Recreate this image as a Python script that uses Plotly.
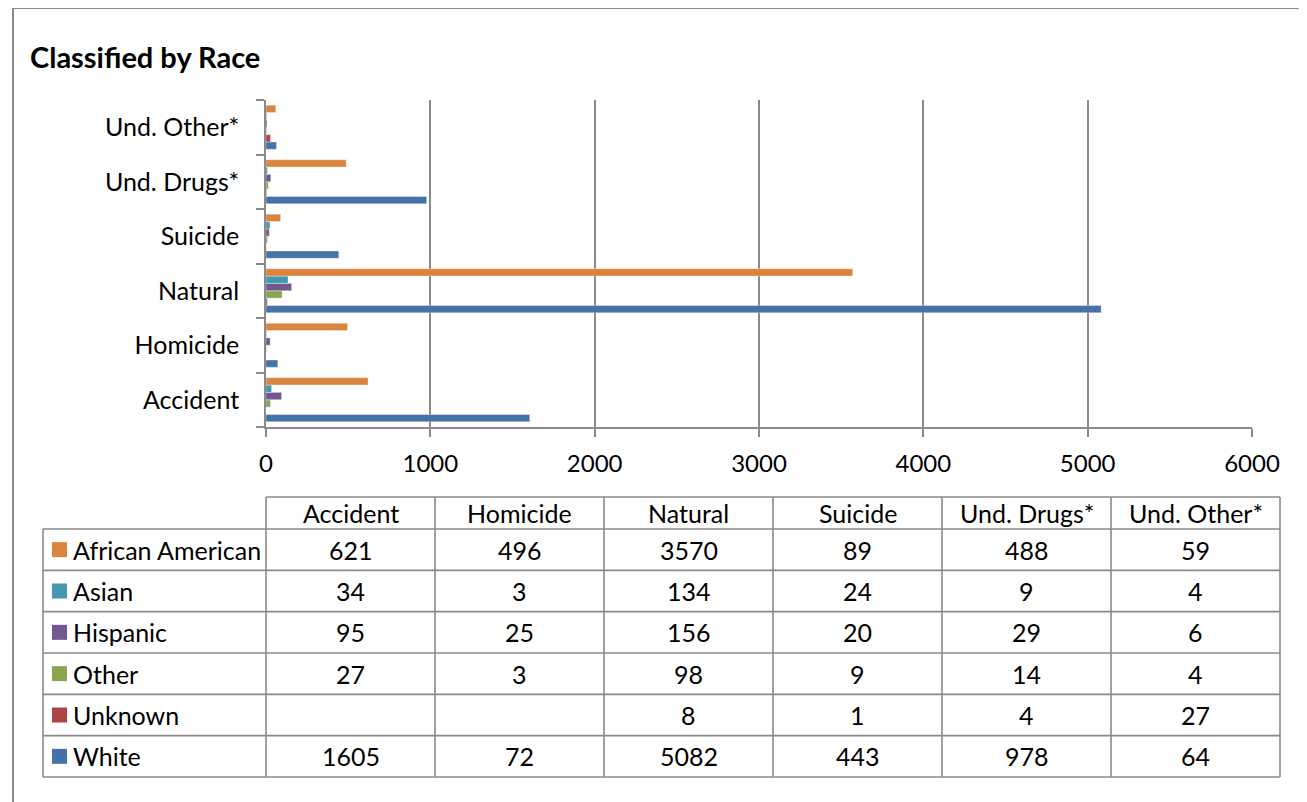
import plotly.graph_objects as go

# ---- data ----
categories = ["Accident", "Homicide", "Natural", "Suicide", "Und. Drugs*", "Und. Other*"]
races = ["African American", "Asian", "Hispanic", "Other", "Unknown", "White"]
african_american = [621, 496, 3570, 89, 488, 59]
asian = [34, 3, 134, 24, 9, 4]
hispanic = [95, 25, 156, 20, 29, 6]
other = [27, 3, 98, 9, 14, 4]
unknown = [None, None, 8, 1, 4, 27]
white = [1605, 72, 5082, 443, 978, 64]
x_ticks = [0, 1000, 2000, 3000, 4000, 5000, 6000]
title_text = "Classified by Race"

series = {
    "African American": african_american,
    "Asian": asian,
    "Hispanic": hispanic,
    "Other": other,
    "Unknown": unknown,
    "White": white,
}
colors = {
    "African American": "#DB843D",
    "Asian": "#4198AF",
    "Hispanic": "#71588F",
    "Other": "#89A54E",
    "Unknown": "#AA4643",
    "White": "#4572A7",
}

OFF = 8  # page body margin
W, H = 1307 - OFF, 802 - OFF
FONT = "Lato"
FS = 25
GRID = "#8a8a8a"


def px(x):
    return (x - OFF) / W


def py(y):
    return 1 - (y - OFF) / H


fig = go.Figure()
# plotly draws first trace at the bottom of each group -> reverse order
for name in reversed(races):
    fig.add_trace(go.Bar(
        y=categories, x=series[name], name=name, orientation="h",
        marker=dict(color=colors[name], line=dict(color="rgba(255,255,255,0.6)", width=0.6)),
        showlegend=False,
    ))

fig.update_layout(
    template="none",
    width=W, height=H,
    margin=dict(l=0, r=0, t=0, b=0),
    paper_bgcolor="white", plot_bgcolor="white",
    barmode="group", bargap=0.19, bargroupgap=0,
    font=dict(family=FONT, size=FS, color="black"),
    xaxis=dict(
        domain=[px(266), px(1252)], range=[0, 6000], tickvals=x_ticks,
        showgrid=True, gridcolor=GRID, gridwidth=1.6,
        showline=True, linecolor=GRID, linewidth=1.6,
        ticks="outside", ticklen=8, tickcolor=GRID, tickwidth=1.6,
        ticklabelstandoff=6, automargin=False, zeroline=False,
        tickfont=dict(family=FONT, size=24, color="black"),
    ),
    yaxis=dict(
        domain=[py(427), py(100)], type="category",
        categoryorder="array", categoryarray=categories,
        showgrid=False, showline=True, linecolor=GRID, linewidth=1.6,
        ticks="outside", ticklen=8, tickcolor=GRID, tickwidth=1.6,
        tickson="boundaries", ticklabelstandoff=20, automargin=False,
        tickfont=dict(family=FONT, size=FS, color="black"),
    ),
)

shapes = []
annotations = []

# outer chart border (top and left visible)
shapes.append(dict(type="line", xref="paper", yref="paper", x0=px(13), x1=1.01, y0=py(8), y1=py(8),
                   line=dict(color="#8c8c8c", width=2)))
shapes.append(dict(type="line", xref="paper", yref="paper", x0=px(13), x1=px(13), y0=py(8), y1=-0.01,
                   line=dict(color="#8c8c8c", width=2)))

# title
annotations.append(dict(xref="paper", yref="paper", x=px(28), y=py(56), xanchor="left", yanchor="middle",
                        text="<b>%s</b>" % title_text, showarrow=False,
                        font=dict(family=FONT, size=29, color="black")))

# data table
col_left = 43
col_edges = [266 + 169 * k for k in range(len(categories) + 1)]
header_top = 497
row_edges = [529 + (777 - 529) * k / len(races) for k in range(len(races) + 1)]
line_style = dict(color=GRID, width=1.6)

shapes.append(dict(type="line", xref="paper", yref="paper", x0=px(col_edges[0]), x1=px(col_edges[-1]),
                   y0=py(header_top), y1=py(header_top), line=line_style))
for r in row_edges:
    shapes.append(dict(type="line", xref="paper", yref="paper", x0=px(col_left), x1=px(col_edges[-1]),
                       y0=py(r), y1=py(r), line=line_style))
shapes.append(dict(type="line", xref="paper", yref="paper", x0=px(col_left), x1=px(col_left),
                   y0=py(row_edges[0]), y1=py(row_edges[-1]), line=line_style))
for c in col_edges:
    shapes.append(dict(type="line", xref="paper", yref="paper", x0=px(c), x1=px(c),
                       y0=py(header_top), y1=py(row_edges[-1]), line=line_style))

# header texts
for j, cat in enumerate(categories):
    annotations.append(dict(xref="paper", yref="paper", x=px((col_edges[j] + col_edges[j + 1]) / 2),
                            y=py((header_top + row_edges[0]) / 2), text=cat, showarrow=False,
                            xanchor="center", yanchor="middle", font=dict(family=FONT, size=FS, color="black")))

# rows
for i, name in enumerate(races):
    yc = (row_edges[i] + row_edges[i + 1]) / 2
    shapes.append(dict(type="rect", xref="paper", yref="paper", x0=px(52), x1=px(67),
                       y0=py(yc - 7.5), y1=py(yc + 7.5), fillcolor=colors[name], line=dict(width=0)))
    annotations.append(dict(xref="paper", yref="paper", x=px(71), y=py(yc), text=name, showarrow=False,
                            xanchor="left", yanchor="middle", font=dict(family=FONT, size=FS, color="black")))
    for j, v in enumerate(series[name]):
        if v is None:
            continue
        annotations.append(dict(xref="paper", yref="paper", x=px((col_edges[j] + col_edges[j + 1]) / 2),
                                y=py(yc), text=str(v), showarrow=False, xanchor="center", yanchor="middle",
                                font=dict(family=FONT, size=FS, color="black")))

fig.update_layout(shapes=shapes, annotations=annotations)
fig.write_html("out.html")
